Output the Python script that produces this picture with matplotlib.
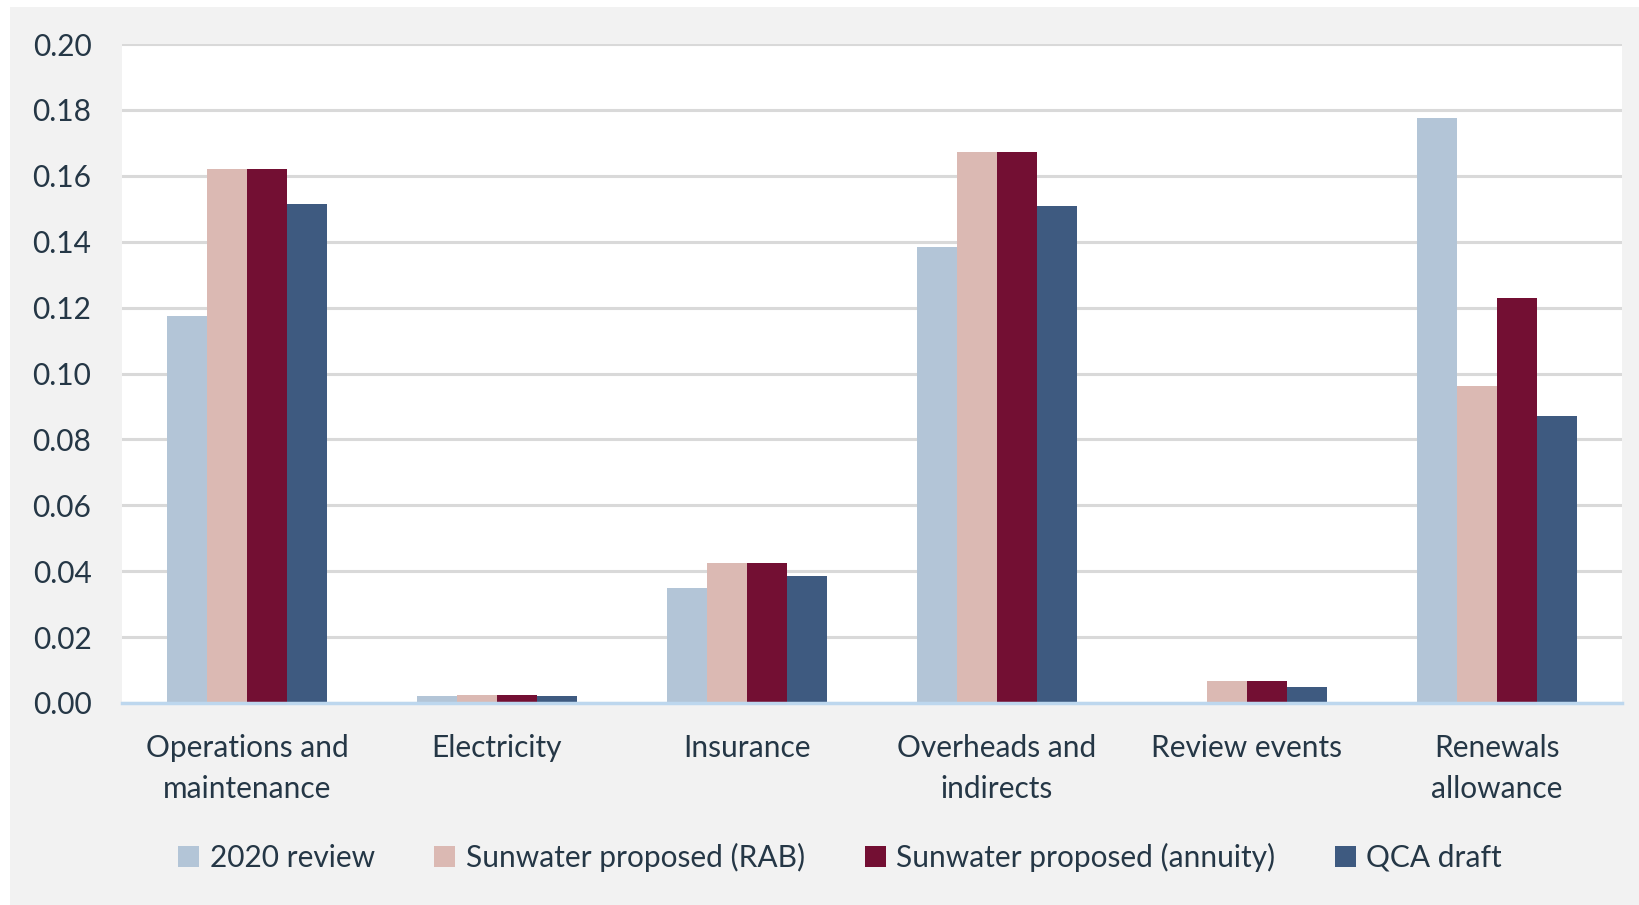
import numpy as np
import matplotlib
matplotlib.use("Agg")
import matplotlib.pyplot as plt
from matplotlib.patches import Rectangle

categories = ["Operations and\nmaintenance", "Electricity", "Insurance",
              "Overheads and\nindirects", "Review events", "Renewals\nallowance"]
series_names = ["2020 review", "Sunwater proposed (RAB)",
                "Sunwater proposed (annuity)", "QCA draft"]
review_2020 = [0.1175, 0.0020, 0.0349, 0.1384, 0.0, 0.1774]
sw_rab = [0.1620, 0.0025, 0.0424, 0.1673, 0.0068, 0.0963]
sw_annuity = [0.1620, 0.0025, 0.0424, 0.1673, 0.0068, 0.1230]
qca_draft = [0.1514, 0.0020, 0.0384, 0.1508, 0.0049, 0.0871]

colors = ["#b3c5d7", "#dbb9b3", "#730f33", "#3e5a80"]
txt = "#253746"
plt.rcParams['font.family'] = ['Lato', 'DejaVu Sans']

fig = plt.figure(figsize=(16.4, 9.05), dpi=100)
fig.patch.set_facecolor("white")
fig.add_artist(Rectangle((10 / 1640, 0), 1 - 10 / 1640, 1 - 7 / 905,
                         transform=fig.transFigure, facecolor="#f2f2f2",
                         edgecolor="none", zorder=0))
ax = fig.add_axes([122 / 1640, 1 - 703 / 905, 1500 / 1640, (703 - 44) / 905])
ax.set_facecolor("white")

x = np.arange(len(categories))
w = 0.16
all_series = [review_2020, sw_rab, sw_annuity, qca_draft]
for i, vals in enumerate(all_series):
    ax.bar(x + (i - 1.5) * w, vals, w, color=colors[i], label=series_names[i],
           zorder=3)

ax.set_ylim(0, 0.20)
ax.set_xlim(-0.5, len(categories) - 0.5)
ax.set_yticks(np.arange(0, 0.201, 0.02))
ax.set_yticklabels([f"{v:.2f}" for v in np.arange(0, 0.201, 0.02)])
ax.yaxis.grid(True, color="#d9d9d9", linewidth=2.2, zorder=0)
ax.set_axisbelow(True)
for s in ["top", "right", "left"]:
    ax.spines[s].set_visible(False)
ax.spines["bottom"].set_color("#bdd7ee")
ax.spines["bottom"].set_linewidth(2.5)
ax.spines["bottom"].set_zorder(4)
ax.set_xticks(x)
ax.set_xticklabels(categories, linespacing=1.6)
ax.tick_params(axis="both", length=0, labelsize=21.5, labelcolor=txt)
ax.tick_params(axis="x", pad=22)
ax.tick_params(axis="y", pad=22)

fig.legend(loc="center", bbox_to_anchor=(840 / 1640, 1 - 857 / 905), ncol=4,
           frameon=False, fontsize=21.5, handlelength=0.7, handleheight=0.7,
           handletextpad=0.35, columnspacing=2.0, labelcolor=txt)

fig.savefig("out.png", dpi=100, facecolor=fig.get_facecolor())
